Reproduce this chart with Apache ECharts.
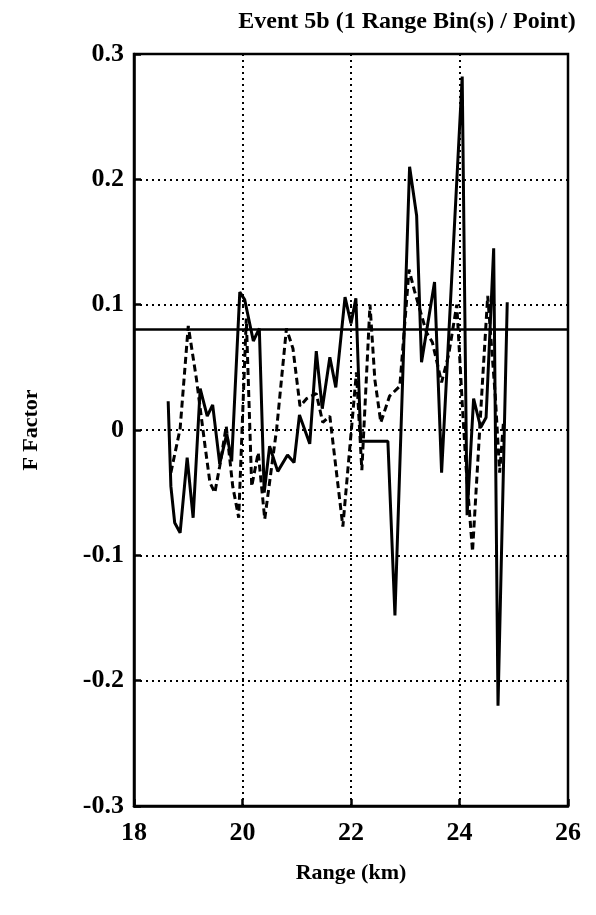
<!DOCTYPE html>
<html>
<head>
<meta charset="utf-8">
<script src="https://cdn.jsdelivr.net/npm/echarts@6/dist/echarts.min.js"></script>
<style>
  html, body { margin: 0; padding: 0; background: #fff; }
  #chart { width: 596px; height: 915px; }
</style>
</head>
<body>
<div id="chart"></div>
<script>
// solid trace: [range km, F factor]
var solidLine = [
    [18.63, 0.023], [18.68, -0.045], [18.75, -0.074], [18.85, -0.082], [18.98, -0.022],
    [19.09, -0.070], [19.22, 0.033], [19.35, 0.011], [19.45, 0.020], [19.58, -0.027],
    [19.71, -0.003], [19.80, -0.025], [19.95, 0.110], [20.04, 0.104], [20.20, 0.071],
    [20.31, 0.081], [20.40, -0.050], [20.50, -0.013], [20.65, -0.033], [20.83, -0.020],
    [20.95, -0.026], [21.05, 0.012], [21.24, -0.011], [21.36, 0.063], [21.47, 0.017],
    [21.61, 0.058], [21.72, 0.034], [21.89, 0.106], [22.00, 0.085], [22.09, 0.105],
    [22.18, -0.009], [22.68, -0.009], [22.81, -0.148], [23.08, 0.210], [23.21, 0.171],
    [23.30, 0.054], [23.54, 0.118], [23.67, -0.034], [24.05, 0.282], [24.14, -0.068],
    [24.26, 0.025], [24.39, 0.002], [24.49, 0.010], [24.63, 0.145], [24.71, -0.220],
    [24.88, 0.102]
];
// dashed trace
var dashedLine = [
    [18.68, -0.034], [18.85, 0.001], [19.00, 0.083], [19.15, 0.041], [19.31, -0.013],
    [19.40, -0.042], [19.49, -0.050], [19.58, -0.029], [19.70, 0.003], [19.82, -0.045],
    [19.93, -0.070], [20.07, 0.089], [20.17, -0.045], [20.29, -0.018], [20.41, -0.071],
    [20.63, 0.001], [20.81, 0.081], [20.93, 0.065], [21.06, 0.019], [21.18, 0.025],
    [21.36, 0.029], [21.48, 0.006], [21.61, 0.011], [21.85, -0.077], [22.10, 0.046],
    [22.20, -0.032], [22.35, 0.100], [22.44, 0.040], [22.55, 0.006], [22.71, 0.027],
    [22.90, 0.035], [23.07, 0.128], [23.17, 0.111], [23.39, 0.078], [23.50, 0.070],
    [23.67, 0.038], [23.80, 0.060], [23.95, 0.100], [24.06, 0.014], [24.12, -0.029],
    [24.24, -0.097], [24.43, 0.043], [24.52, 0.107], [24.66, 0.027], [24.74, -0.034],
    [24.81, 0.006]
];
var thresholdValue = 0.077;
var xTicks = [18, 20, 22, 24, 26];
var yTicks = [-0.3, -0.2, -0.1, 0, 0.1, 0.2, 0.3];

var chart = echarts.init(document.getElementById('chart'));
var font = 'Liberation Serif, Times New Roman, serif';

var option = {
    backgroundColor: '#fff',
    animation: false,
    title: {
        text: 'Event 5b (1 Range Bin(s) / Point)',
        left: 402, top: 5, textAlign: 'center',
        textStyle: { fontFamily: font, fontSize: 24, fontWeight: 'bold', color: '#000' }
    },
    grid: { left: 134, right: 28, top: 54, bottom: 109, show: true, borderColor: '#000', borderWidth: 2.5 },
    xAxis: {
        type: 'value', min: xTicks[0], max: xTicks[xTicks.length - 1], interval: 2,
        name: 'Range (km)', nameLocation: 'middle', nameGap: 56,
        nameTextStyle: { fontFamily: font, fontSize: 22, fontWeight: 'bold', color: '#000' },
        axisLine: { show: true, onZero: false, lineStyle: { color: '#000', width: 2.5 } },
        axisTick: { show: true, inside: true, length: 7, lineStyle: { color: '#000', width: 2.5 } },
        axisLabel: { fontFamily: font, fontSize: 26, fontWeight: 'bold', color: '#000', margin: 14 },
        splitLine: { show: true, lineStyle: { color: '#000', type: [2, 4], width: 2 } }
    },
    yAxis: {
        type: 'value', min: yTicks[0], max: yTicks[yTicks.length - 1], interval: 0.1,
        name: 'F Factor', nameLocation: 'middle', nameGap: 92, nameRotate: 90,
        nameTextStyle: { fontFamily: font, fontSize: 22, fontWeight: 'bold', color: '#000' },
        axisLine: { show: true, lineStyle: { color: '#000', width: 2.5 } },
        axisTick: { show: true, inside: true, length: 7, lineStyle: { color: '#000', width: 2.5 } },
        axisLabel: {
            fontFamily: font, fontSize: 26, fontWeight: 'bold', color: '#000', margin: 10,
            formatter: function (v) { return String(Math.round(v * 10) / 10); }
        },
        splitLine: { show: true, lineStyle: { color: '#000', type: [2, 4], width: 2 } }
    },
    series: [{
        type: 'line', data: solidLine, showSymbol: false,
        lineStyle: { color: '#000', width: 3 },
        markLine: {
            silent: true, symbol: 'none', label: { show: false },
            lineStyle: { color: '#000', width: 2.5, type: 'solid' },
            data: [{ yAxis: thresholdValue }]
        }
    }, {
        type: 'line', data: dashedLine, showSymbol: false,
        lineStyle: { color: '#000', width: 3, type: [7, 4] }
    }]
};
chart.setOption(option);
</script>
</body>
</html>
